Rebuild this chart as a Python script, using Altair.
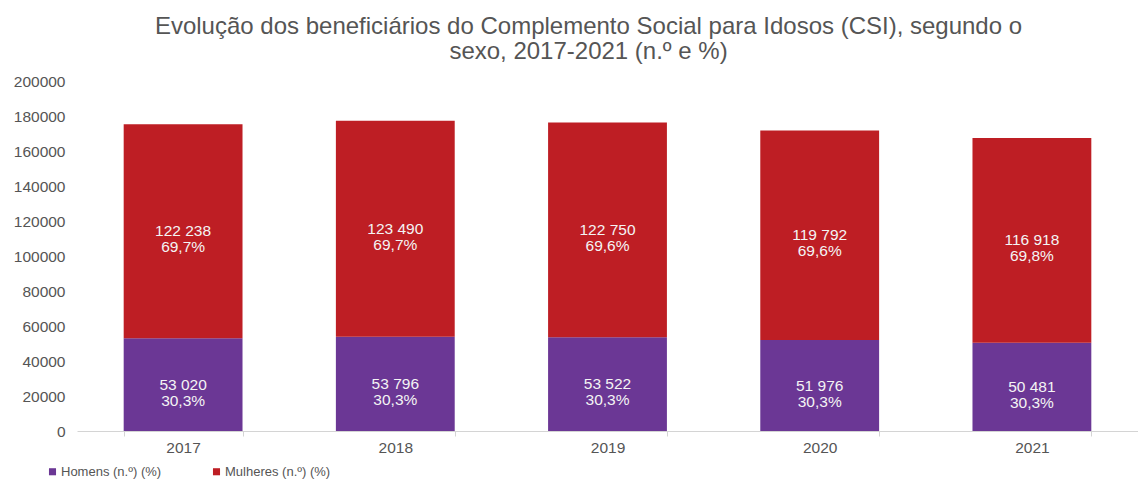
import altair as alt
import pandas as pd

years = ["2017", "2018", "2019", "2020", "2021"]
homens = [53020, 53796, 53522, 51976, 50481]
mulheres = [122238, 123490, 122750, 119792, 116918]
pct_homens = [30.3, 30.3, 30.3, 30.3, 30.3]
pct_mulheres = [69.7, 69.7, 69.6, 69.6, 69.8]
series = ["Homens (n.º) (%)", "Mulheres (n.º) (%)"]
colors = ["#6B3795", "#BE1E24"]
y_ticks = list(range(0, 200001, 20000))

rows = []
for i, yr in enumerate(years):
    for s, vals, pcts, order in ((series[0], homens, pct_homens, 0), (series[1], mulheres, pct_mulheres, 1)):
        v = vals[i]
        num = f"{v:,}".replace(",", " ")
        pct = f"{pcts[i]:.1f}".replace(".", ",") + "%"
        rows.append({"ano": yr, "serie": s, "valor": v, "ordem": order, "rotulo": [num, pct]})
df = pd.DataFrame(rows)

FONT = "Liberation Sans"

x_axis = alt.Axis(labelAngle=0, tickBand="extent", domainColor="#d4d4d4",
                  tickColor="#d4d4d4", tickSize=5, labelPadding=4,
                  labelFontSize=15.5, labelColor="#555555", labelFont=FONT)
y_axis = alt.Axis(values=y_ticks, format="d", labelOverlap=False,
                  grid=False, domain=False, ticks=False,
                  labelPadding=12, labelFontSize=15.5, labelColor="#555555",
                  labelFont=FONT)
x_scale = alt.Scale(paddingInner=0.44, paddingOuter=0.22)
y_scale = alt.Scale(domain=[0, 200000])

base = alt.Chart(df)

bars = base.mark_bar().encode(
    x=alt.X("ano:N", sort=years, title=None, scale=x_scale, axis=x_axis),
    y=alt.Y("valor:Q", stack="zero", title=None, scale=y_scale, axis=y_axis),
    color=alt.Color("serie:N", sort=series,
                    scale=alt.Scale(domain=series, range=colors),
                    legend=alt.Legend(title=None, orient="none", direction="horizontal",
                                      legendX=-31, legendY=384, symbolType="square",
                                      symbolSize=50, symbolStrokeWidth=0,
                                      labelFontSize=13, labelColor="#555555",
                                      labelFont=FONT, columnPadding=48, labelOffset=2)),
    order=alt.Order("ordem:Q"),
)

labels = base.transform_stack(
    stack="valor", groupby=["ano"], as_=["y0", "y1"], sort=[alt.SortField("ordem")]
).transform_calculate(
    mid="(datum.y0 + datum.y1) / 2"
).mark_text(color="#f4f4f4", fontSize=15.5, font=FONT, baseline="middle", lineHeight=16).encode(
    x=alt.X("ano:N", sort=years, title=None, scale=x_scale, axis=x_axis),
    y=alt.Y("mid:Q", title=None, scale=y_scale, axis=y_axis),
    text="rotulo",
)

chart = (bars + labels).properties(
    width=1061,
    height=350,
    autosize=alt.AutoSizeParams(type="none"),
    padding={"left": 69, "top": 73, "right": 0, "bottom": 49},
    title=alt.TitleParams(
        text=["Evolução dos beneficiários do Complemento Social para Idosos (CSI), segundo o",
              "sexo, 2017-2021 (n.º e %)"],
        fontSize=24, font=FONT, fontWeight="normal", color="#555555",
        anchor="middle", dx=-19, offset=10, lineHeight=25,
    ),
).configure_view(stroke=None)

chart.save("out.html", embed_options={"renderer": "svg", "actions": False})
